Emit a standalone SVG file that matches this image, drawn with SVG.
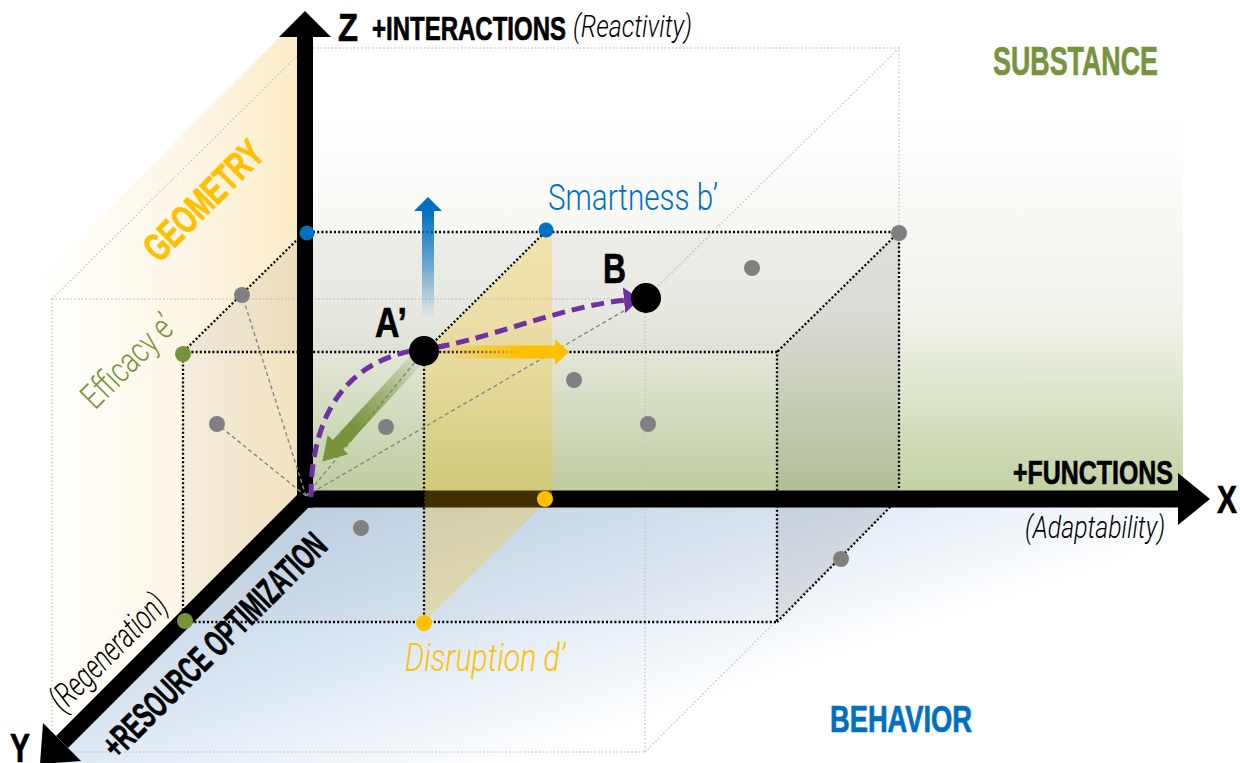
<svg xmlns="http://www.w3.org/2000/svg" width="1240" height="763" viewBox="0 0 1240 763">
<defs>
<style>
.bold{font-family:'Liberation Sans',Arial,sans-serif;font-weight:bold;stroke-width:0.7;}
.light{font-family:Roboto,'Liberation Sans',Arial,sans-serif;font-weight:300;}
.ital{font-family:Roboto,'Liberation Sans',Arial,sans-serif;font-weight:300;font-style:italic;}
.bk{fill:#000;stroke:#000;}
.gn{fill:#77933c;stroke:#77933c;}
.yl{fill:#ffc000;stroke:#ffc000;}
.bl{fill:#0070c0;stroke:#0070c0;}
.dotBlack{fill:none;stroke:#000;stroke-width:2.3;stroke-dasharray:2 2.2;}
.dotGrey{fill:none;stroke:#cacaca;stroke-width:1.5;stroke-dasharray:1.5 2.2;}
.dash{fill:none;stroke:#858585;stroke-width:1.4;stroke-dasharray:4 3;}
.grey{fill:#808080;}
</style>
<linearGradient id="gGeo" gradientUnits="userSpaceOnUse" x1="35" y1="0" x2="297" y2="0">
<stop offset="0" stop-color="#ffffff"/>
<stop offset="0.6" stop-color="#fef6e4"/>
<stop offset="1" stop-color="#fcebc6"/>
</linearGradient>
<linearGradient id="gSub" gradientUnits="userSpaceOnUse" x1="0" y1="110" x2="0" y2="490">
<stop offset="0" stop-color="#ffffff"/>
<stop offset="0.55" stop-color="#f1f3eb"/>
<stop offset="1" stop-color="#c3d2a4"/>
</linearGradient>
<linearGradient id="gBeh" gradientUnits="userSpaceOnUse" x1="320" y1="500" x2="420" y2="800">
<stop offset="0" stop-color="#bfd3e6"/>
<stop offset="0.5" stop-color="#dce8f4"/>
<stop offset="1" stop-color="#ffffff"/>
</linearGradient>
<linearGradient id="gBlueArrow" gradientUnits="userSpaceOnUse" x1="0" y1="318" x2="0" y2="211">
<stop offset="0" stop-color="#0070c0" stop-opacity="0"/>
<stop offset="0.5" stop-color="#0070c0" stop-opacity="0.55"/>
<stop offset="1" stop-color="#0070c0"/>
</linearGradient>
<linearGradient id="gYellowArrow" gradientUnits="userSpaceOnUse" x1="440" y1="0" x2="556" y2="0">
<stop offset="0" stop-color="#ffc000" stop-opacity="0"/>
<stop offset="0.7" stop-color="#ffc000"/>
<stop offset="1" stop-color="#ffc000"/>
</linearGradient>
<linearGradient id="gGreenArrow" gradientUnits="userSpaceOnUse" x1="0" y1="0" x2="120" y2="0">
<stop offset="0" stop-color="#77933c" stop-opacity="0.1"/>
<stop offset="0.8" stop-color="#77933c"/>
<stop offset="1" stop-color="#77933c"/>
</linearGradient>
<marker id="mPurple" markerUnits="userSpaceOnUse" markerWidth="18" markerHeight="26" viewBox="0 0 18 26" refX="3" refY="13" orient="auto">
<path d="M0,0 L16,13 L0,26 z" fill="#7030a0"/>
</marker>
</defs>

<g id="planes">
<polygon id="plane-geometry" points="305,37 280,37 35,282 35,763 41,763 305,499" fill="url(#gGeo)"/>
<polygon id="plane-substance" points="305,37 1183,37 1183,499 305,499" fill="url(#gSub)"/>
<polygon id="plane-behavior" points="305,499 1183,499 919,763 41,763" fill="url(#gBeh)"/>
</g>

<g id="outer-box">
<path class="dotGrey" d="M313,48 H899 V498 M899,48 L645,299 M305,48 L52,299 M52,299 H645 V752 M52,299 V752 H645 M645,752 L899,498"/>
</g>

<g id="inner-faces" fill="#5a5a5a">
<polygon points="305,232 899,232 899,498 305,498" fill-opacity="0.04"/>
<polygon points="305,232 899,232 777,352 183,352" fill-opacity="0.03"/>
<polygon points="899,232 899,498 777,622 777,352" fill-opacity="0.12"/>
<polygon points="305,232 305,498 183,622 183,352" fill-opacity="0.06"/>
<polygon points="305,498 899,498 777,622 183,622" fill-opacity="0.04"/>
</g>

<g id="axes" fill="#000" stroke="#000">
<line x1="305" y1="507.5" x2="305" y2="36" stroke-width="16"/>
<polygon points="279,37 305,11 331,37" stroke="none"/>
<line x1="297" y1="499" x2="1179" y2="499" stroke-width="17"/>
<polygon points="1178,473 1210,499 1178,525" stroke="none"/>
<line x1="305" y1="499" x2="62" y2="742" stroke-width="17"/>
<polygon points="81,761 43,723 40,764" stroke="none"/>
</g>

<g id="plane-disruption">
<polygon points="424,352 548,230 552,230 552,496 424,622" fill="#ffc000" fill-opacity="0.25"/>
</g>

<g id="inner-box">
<path class="dotBlack" d="M313,232 H899 V490 M899,232 L777,352 M305,232 L183,352 M183,352 H777 V622 M183,352 V622 H777 M777,622 L899,498 M424,352 V622 M424,352 L546,231"/>
</g>

<g id="connectors">
<path class="dash" d="M306,496 L242,295 M306,496 L217,424 M306,496 L424,351 M306,496 L646,298"/>
<g id="arrow-smartness">
<rect x="422" y="210" width="12" height="108" fill="url(#gBlueArrow)"/>
<polygon points="414,211 428,197 442,211" fill="#0070c0"/>
</g>
<g id="arrow-disruption">
<rect x="440" y="345.5" width="116" height="13" fill="url(#gYellowArrow)"/>
<polygon points="555,339 569,352 555,365" fill="#ffc000"/>
</g>
<g id="arrow-efficacy" transform="translate(418,358) rotate(132.7)">
<rect x="0" y="-7" width="120" height="14" fill="url(#gGreenArrow)"/>
<polygon points="118,-14 141,0 118,14" fill="#77933c"/>
</g>
<path id="path-A-B" d="M311,497 C311,400 360,356 424,349 C480,343 560,306 627,300" fill="none" stroke="#7030a0" stroke-width="5" stroke-dasharray="13 7" marker-end="url(#mPurple)"/>
</g>

<g id="grey-points" class="grey">
<circle cx="242" cy="295" r="8"/>
<circle cx="217" cy="424" r="8"/>
<circle cx="386" cy="427" r="8"/>
<circle cx="574" cy="380" r="8"/>
<circle cx="648" cy="424" r="8"/>
<circle cx="752" cy="268" r="8"/>
<circle cx="899" cy="233" r="8"/>
<circle cx="361" cy="528" r="8"/>
<circle cx="841" cy="559" r="8"/>
</g>

<g id="node-smartness">
<circle cx="307" cy="233" r="7.5" fill="#0070c0"/>
<circle cx="546" cy="230" r="7.5" fill="#0070c0"/>
<text class="light" x="548" y="210" font-size="37" fill="#0070c0" textLength="170" lengthAdjust="spacingAndGlyphs">Smartness b’</text>
</g>

<g id="node-efficacy">
<circle cx="183" cy="354" r="8" fill="#77933c"/>
<circle cx="185" cy="621" r="8" fill="#77933c"/>
<text class="light" transform="translate(128,361) rotate(-45)" x="0" y="12" text-anchor="middle" font-size="35" fill="#77933c" textLength="117" lengthAdjust="spacingAndGlyphs">Efficacy e’</text>
</g>

<g id="node-disruption">
<circle cx="545" cy="499" r="8" fill="#ffc000"/>
<circle cx="424" cy="623" r="8" fill="#ffc000"/>
<text class="ital" x="405" y="671" font-size="38" fill="#ffc000" textLength="160" lengthAdjust="spacingAndGlyphs">Disruption d’</text>
</g>

<g id="node-A">
<circle cx="424" cy="351" r="15" fill="#000"/>
<text class="bold bk" x="375" y="337" font-size="42" textLength="32" lengthAdjust="spacingAndGlyphs">A’</text>
</g>

<g id="node-B">
<circle cx="646" cy="298" r="15" fill="#000"/>
<text class="bold bk" x="603" y="283" font-size="42" textLength="23" lengthAdjust="spacingAndGlyphs">B</text>
</g>

<g id="labels">
<text class="bold bk" x="338" y="41" font-size="39" textLength="20" lengthAdjust="spacingAndGlyphs">Z</text>
<text class="bold bk" x="372" y="40" font-size="34" textLength="194" lengthAdjust="spacingAndGlyphs">+INTERACTIONS</text>
<text class="ital" x="573" y="37" font-size="31" textLength="119" lengthAdjust="spacingAndGlyphs">(Reactivity)</text>
<text class="bold gn" x="993" y="75" font-size="41" textLength="165" lengthAdjust="spacingAndGlyphs">SUBSTANCE</text>
<text class="bold yl" transform="translate(203,200) rotate(-45)" x="0" y="14" text-anchor="middle" font-size="39" textLength="152" lengthAdjust="spacingAndGlyphs">GEOMETRY</text>
<text class="bold bk" x="1013" y="484" font-size="34" textLength="160" lengthAdjust="spacingAndGlyphs">+FUNCTIONS</text>
<text class="bold bk" x="1217" y="513" font-size="39" textLength="20" lengthAdjust="spacingAndGlyphs">X</text>
<text class="ital" x="1025" y="538" font-size="31" textLength="140" lengthAdjust="spacingAndGlyphs">(Adaptability)</text>
<text class="bold bl" x="830" y="732" font-size="36" textLength="142" lengthAdjust="spacingAndGlyphs">BEHAVIOR</text>
<text class="bold bk" x="10" y="762" font-size="40" textLength="20" lengthAdjust="spacingAndGlyphs">Y</text>
<text class="bold bk" transform="translate(214,645) rotate(-45)" x="0" y="13" text-anchor="middle" font-size="37" textLength="300" lengthAdjust="spacingAndGlyphs">+RESOURCE OPTIMIZATION</text>
<text class="ital" transform="translate(109,653) rotate(-45)" x="0" y="10" text-anchor="middle" font-size="34" textLength="150" lengthAdjust="spacingAndGlyphs">(Regeneration)</text>
</g>
</svg>
